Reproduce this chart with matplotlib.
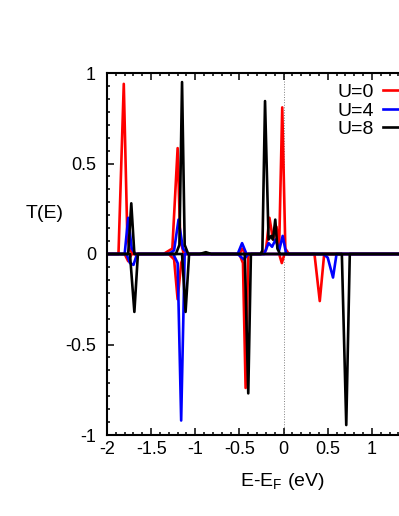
import matplotlib
matplotlib.use('Agg')
import matplotlib.pyplot as plt
from matplotlib.ticker import MultipleLocator

plt.rcParams['font.family'] = ['Liberation Sans', 'DejaVu Sans']
plt.rcParams['axes.unicode_minus'] = False

# transmission peaks: energy (eV) and T(E)
e_u0_up = [-2.0, -1.87, -1.81, -1.77, -1.74, -1.70, -1.36, -1.26, -1.20, -1.17, -1.13,
           -0.55, -0.50, -0.47, -0.43, -0.25, -0.20, -0.16, -0.12, -0.08, -0.05,
           -0.015, 0.02, 0.06, 2.0]
t_u0_up = [0, 0, 0.94, 0.10, 0.02, 0, 0, 0.03, 0.585, 0.08, 0,
           0, 0, 0.03, 0, 0, 0.02, 0.20, 0.08, 0.15, 0.04,
           0.81, 0.03, 0, 0]
e_u0_dn = [-2.0, -1.80, -1.76, -1.72, -1.30, -1.24, -1.20, -1.16, -1.12, -0.50, -0.46,
           -0.43, -0.40, -0.05, -0.02, 0.01, 0.35, 0.41, 0.46, 2.0]
t_u0_dn = [0, 0, -0.04, 0, 0, -0.03, -0.25, -0.05, 0, 0, -0.05,
           -0.74, 0, 0, -0.05, 0, 0, -0.26, 0, 0]

e_u4_up = [-2.0, -1.80, -1.76, -1.72, -1.68, -1.30, -1.24, -1.19, -1.14, -1.08,
           -0.52, -0.47, -0.42, -0.22, -0.17, -0.13, -0.09, -0.05, -0.01, 0.03, 2.0]
t_u4_up = [0, 0, 0.20, 0.03, 0, 0, 0.02, 0.19, 0.03, 0,
           0, 0.06, 0, 0, 0.06, 0.04, 0.08, 0.02, 0.10, 0, 0]
e_u4_dn = [-2.0, -1.78, -1.74, -1.70, -1.66, -1.25, -1.20, -1.16, -1.12,
           -0.52, -0.45, -0.40, 0.45, 0.50, 0.56, 0.60, 2.0]
t_u4_dn = [0, 0, -0.05, -0.06, 0, 0, -0.05, -0.92, 0,
           0, -0.03, 0, 0, -0.02, -0.13, 0, 0]

e_u8_up = [-2.0, -1.76, -1.725, -1.69, -1.22, -1.18, -1.15, -1.12, -1.08, -0.95, -0.88,
           -0.82, -0.26, -0.24, -0.21, -0.17, -0.14, -0.12, -0.094, -0.07, -0.04, 2.0]
t_u8_up = [0, 0, 0.28, 0, 0, 0.05, 0.95, 0.05, 0, 0, 0.01,
           0, 0, 0.02, 0.845, 0.08, 0.10, 0.08, 0.19, 0.03, 0, 0]
e_u8_dn = [-2.0, -1.74, -1.69, -1.65, -1.15, -1.11, -1.07, -0.44, -0.40, -0.37,
           0.66, 0.71, 0.75, 2.0]
t_u8_dn = [0, 0, -0.32, 0, 0, -0.32, 0, 0, -0.77, 0,
           0, -0.945, 0, 0]

curves = [
    ('U=0', 'red', e_u0_up, t_u0_up, e_u0_dn, t_u0_dn),
    ('U=4', 'blue', e_u4_up, t_u4_up, e_u4_dn, t_u4_dn),
    ('U=8', 'black', e_u8_up, t_u8_up, e_u8_dn, t_u8_dn),
]

fig = plt.figure(figsize=(3.99, 5.16), dpi=100)
# axes runs past the right edge, the reference is cropped there
ax = fig.add_axes([107 / 399, 81 / 516, 309 / 399, 362 / 516])

ax.axvline(0, color='gray', linestyle=':', linewidth=0.7, zorder=0)

for label, col, eu, tu, ed, td in curves:
    ax.plot(eu, tu, color=col, linewidth=1.9, label=label)
    ax.plot(ed, td, color=col, linewidth=1.9)

ax.set_xlim(-2, 1.5)
ax.set_ylim(-1, 1)
ax.xaxis.set_major_locator(MultipleLocator(0.5))
ax.xaxis.set_minor_locator(MultipleLocator(0.1))
ax.yaxis.set_major_locator(MultipleLocator(0.5))
ax.yaxis.set_minor_locator(MultipleLocator(0.5 / 7))
ax.tick_params(which='both', direction='in', top=True, right=True, labelsize=13, width=1.1)
ax.tick_params(which='major', length=5)
ax.tick_params(which='minor', length=2.5)
ax.tick_params(axis='x', pad=4)
ax.tick_params(axis='y', pad=8)
ax.set_xticks([-2, -1.5, -1, -0.5, 0, 0.5, 1])
ax.set_xticklabels(['-2', '-1.5', '-1', '-0.5', '0', '0.5', '1'])
ax.set_yticks([-1, -0.5, 0, 0.5, 1])
ax.set_yticklabels(['-1', '-0.5', '0', '0.5', '1'])
for s in ax.spines.values():
    s.set_linewidth(1.5)

fig.text(45 / 399, 1 - 213 / 516, 'T(E)', ha='center', va='center', fontsize=14)
fig.text(282 / 399, 1 - 481 / 516, r'E-E$_\mathregular{F}$ (eV)', ha='center', va='center', fontsize=14)

ax.legend(loc='upper right', bbox_to_anchor=(437 / 399, 1 - 66 / 516),
          bbox_transform=fig.transFigure, frameon=False, markerfirst=False,
          fontsize=14, handlelength=1.9, handletextpad=0.45, labelspacing=0.05,
          borderpad=0.4)

fig.savefig('out.png', dpi=100)
